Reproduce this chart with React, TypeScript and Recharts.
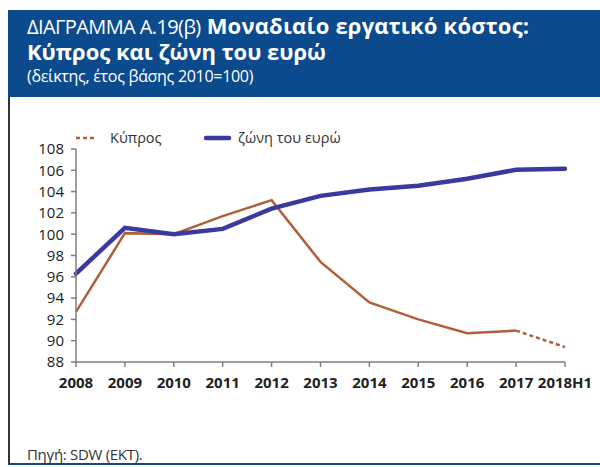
import { LineChart, Line, XAxis, YAxis, Legend } from 'recharts'

const years = ['2008', '2009', '2010', '2011', '2012', '2013', '2014', '2015', '2016', '2017', '2018H1']
// Cyprus: solid through 2017, dashed estimate for 2018H1
const cyprus = [92.7, 100.1, 100.0, 101.7, 103.2, 97.4, 93.6, 92.0, 90.7, 90.95, null]
const cyprusDashed = [null, null, null, null, null, null, null, null, null, 90.95, 89.4]
const euroArea = [96.3, 100.6, 100.0, 100.5, 102.4, 103.6, 104.2, 104.55, 105.2, 106.05, 106.15]
const yTicks = [88, 90, 92, 94, 96, 98, 100, 102, 104, 106, 108]

const data = years.map((year, i) => ({
  year,
  cyprus: cyprus[i],
  cyprusDashed: cyprusDashed[i],
  euroArea: euroArea[i],
}))

const HEADER_BLUE = '#0B4A8D'
const BROWN = '#B05F3C'
const LINE_BLUE = '#3A3A9E'
const FONT = '"Open Sans", sans-serif'

function ChartLegend() {
  return (
    <svg width={300} height={22} style={{ fontFamily: FONT }}>
      <line x1={0} y1={11} x2={21} y2={11} stroke={BROWN} strokeWidth={2.5} strokeDasharray="4 3" />
      <text x={34} y={16} fontSize={14.5} fill="#333">Κύπρος</text>
      <line x1={130} y1={11} x2={153} y2={11} stroke={LINE_BLUE} strokeWidth={4.5} strokeLinecap="round" />
      <text x={162} y={16} fontSize={14.5} fill="#333">ζώνη του ευρώ</text>
    </svg>
  )
}

export default function App() {
  return (
    <div style={{ position: 'absolute', left: 0, top: 0, width: 600, height: 467, background: '#fff', fontFamily: FONT }}>
      <div style={{ position: 'absolute', left: 8, top: 10, width: 592, height: 87, background: HEADER_BLUE, color: '#fff' }}>
        <div style={{ position: 'absolute', left: 19, top: 4, height: 22, lineHeight: '22px', whiteSpace: 'nowrap' }}>
          <span style={{ display: 'inline-block', fontSize: 20, lineHeight: '22px', letterSpacing: -0.6 }}>ΔΙΑΓΡΑΜΜΑ Α.19(β)</span>
          <span style={{ display: 'inline-block', width: 6 }} />
          <span style={{ display: 'inline-block', fontSize: 22, lineHeight: '22px', fontWeight: 700, letterSpacing: 0.2 }}>Μοναδιαίο εργατικό κόστος:</span>
        </div>
        <div style={{ position: 'absolute', left: 19, top: 30, height: 22, whiteSpace: 'nowrap' }}>
          <span style={{ display: 'inline-block', fontSize: 22, lineHeight: '22px', fontWeight: 700 }}>Κύπρος και ζώνη του ευρώ</span>
        </div>
        <div style={{ position: 'absolute', left: 19, top: 57, fontSize: 16, lineHeight: '18px', letterSpacing: -0.3, whiteSpace: 'nowrap' }}>
          (δείκτης, έτος βάσης 2010=100)
        </div>
      </div>
      <div style={{ position: 'absolute', left: 8, top: 97, width: 2, height: 367, background: '#333' }} />
      <div style={{ position: 'absolute', left: 8, top: 463, width: 592, height: 2, background: HEADER_BLUE }} />
      <div style={{ position: 'absolute', left: 27, top: 444, fontSize: 15, color: '#333', letterSpacing: -0.3, whiteSpace: 'nowrap' }}>
        Πηγή: SDW (ΕΚΤ).
      </div>

      <div style={{ position: 'absolute', left: 0, top: 0 }}>
        <LineChart width={600} height={467} data={data} margin={{ top: 149, right: 35, bottom: 75, left: 36 }}>
          <XAxis
            dataKey="year"
            height={30}
            axisLine={{ stroke: '#7f7f7f', strokeWidth: 1.5 }}
            tickLine={{ stroke: '#7f7f7f', strokeWidth: 1.5 }}
            tickSize={5}
            tickMargin={10}
            interval={0}
            tick={{ fontSize: 15, fontWeight: 700, fill: '#222', fontFamily: FONT }}
          />
          <YAxis
            width={40}
            domain={[88, 108]}
            ticks={yTicks}
            interval={0}
            axisLine={{ stroke: '#7f7f7f', strokeWidth: 1.5 }}
            tickLine={{ stroke: '#7f7f7f', strokeWidth: 1.5 }}
            tickSize={5}
            tickMargin={7}
            tick={{ fontSize: 15, fill: '#222', fontFamily: FONT }}
          />
          <Legend
            verticalAlign="middle"
            align="center"
            content={() => <ChartLegend />}
            wrapperStyle={{ top: 127, left: 76, width: 300, height: 22 }}
          />
          <Line dataKey="cyprus" stroke={BROWN} strokeWidth={2.5} dot={false} isAnimationActive={false} />
          <Line dataKey="cyprusDashed" stroke={BROWN} strokeWidth={2.5} strokeDasharray="4 3" dot={false} isAnimationActive={false} />
          <Line dataKey="euroArea" stroke={LINE_BLUE} strokeWidth={4.5} strokeLinecap="round" dot={false} isAnimationActive={false} />
        </LineChart>
      </div>
    </div>
  )
}
